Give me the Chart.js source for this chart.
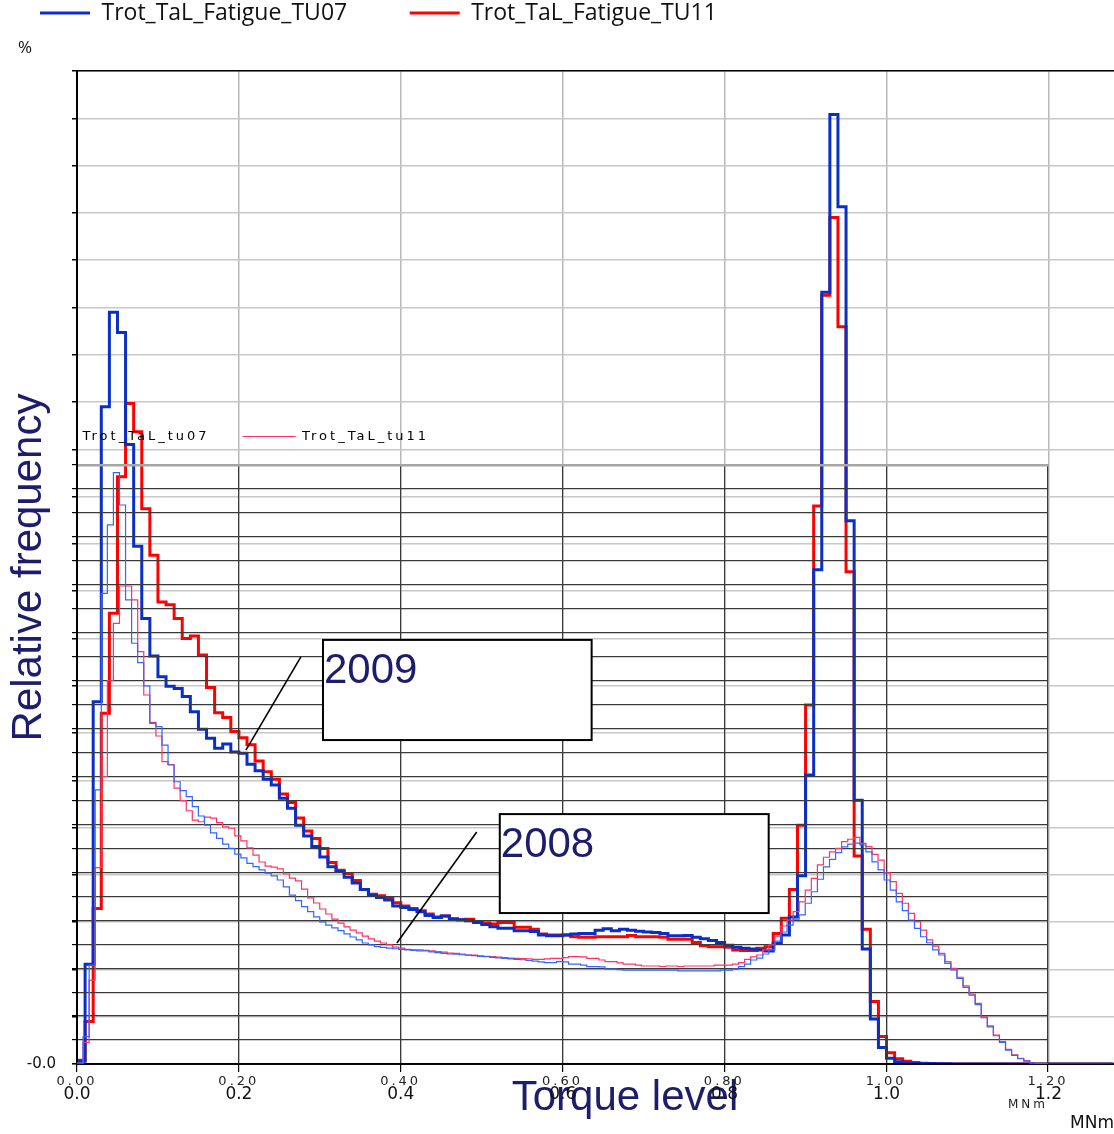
<!DOCTYPE html>
<html>
<head>
<meta charset="utf-8">
<script src="https://cdn.jsdelivr.net/npm/chart.js@4.4.1/dist/chart.umd.min.js"></script>
<style>
  html, body { margin: 0; padding: 0; background: #fff; }
  #wrap { position: relative; width: 1114px; height: 1134px; overflow: hidden; }
  #wrap canvas { position: absolute; left: 0; top: 0; }
</style>
</head>
<body>
<div id="wrap">
  <canvas id="c2009" width="1114" height="1134"></canvas>
  <canvas id="c2008" width="1114" height="1134"></canvas>
</div>
<script>
// ---- 2009 campaign: relative frequency per 0.01 MNm torque bin ----
const bin2009 = 0.01;
const tu07_2009 = [
  0.06, 2.11, 7.66, 13.9, 15.9, 15.47, 13.1, 10.95, 9.42, 8.63,
  8.19, 7.99, 7.94, 7.77, 7.45, 7.08, 6.89, 6.68, 6.77, 6.6,
  6.57, 6.34, 6.2, 6.02, 5.9, 5.62, 5.41, 5.05, 4.82, 4.6,
  4.38, 4.17, 4.07, 3.95, 3.83, 3.69, 3.57, 3.52, 3.47, 3.34,
  3.31, 3.27, 3.22, 3.14, 3.1, 3.13, 3.07, 3.05, 3.03, 2.99,
  2.95, 2.9, 2.87, 2.87, 2.82, 2.82, 2.8, 2.73, 2.71, 2.71,
  2.73, 2.75, 2.76, 2.76, 2.83, 2.86, 2.82, 2.85, 2.83, 2.81,
  2.79, 2.78, 2.76, 2.71, 2.71, 2.72, 2.68, 2.65, 2.61, 2.57,
  2.51, 2.47, 2.45, 2.43, 2.41, 2.39, 2.55, 2.73, 3.11, 3.98,
  6.11, 10.45, 16.32, 20.08, 18.13, 11.49, 5.58, 2.43, 0.95, 0.35,
  0.12, 0.05, 0.02, 0.01, 0.01, 0.01, 0.005, 0.005, 0, 0,
  0, 0, 0, 0, 0, 0, 0, 0, 0, 0,
  0, 0, 0, 0, 0, 0, 0, 0
];
const tu11_2009 = [
  0.08, 0.9, 3.29, 7.42, 9.53, 12.42, 13.97, 13.37, 11.74, 10.76,
  9.77, 9.71, 9.42, 9.0, 9.05, 8.65, 7.96, 7.43, 7.33, 7.03,
  6.9, 6.75, 6.41, 6.18, 6.02, 5.71, 5.53, 5.2, 4.93, 4.77,
  4.56, 4.26, 4.1, 4.03, 3.88, 3.69, 3.59, 3.56, 3.5, 3.41,
  3.34, 3.29, 3.24, 3.17, 3.11, 3.13, 3.06, 3.05, 3.06, 3.01,
  2.98, 2.96, 2.99, 2.99, 2.89, 2.89, 2.85, 2.75, 2.73, 2.73,
  2.73, 2.69, 2.68, 2.68, 2.69, 2.69, 2.69, 2.69, 2.72, 2.69,
  2.69, 2.69, 2.68, 2.64, 2.64, 2.64, 2.57, 2.5, 2.48, 2.48,
  2.47, 2.41, 2.4, 2.4, 2.45, 2.48, 2.76, 3.08, 3.69, 5.05,
  7.59, 11.8, 16.26, 17.9, 15.59, 10.41, 4.4, 2.85, 1.32, 0.58,
  0.24, 0.11, 0.06, 0.03, 0.015, 0.01, 0.005, 0, 0, 0,
  0, 0, 0, 0, 0, 0, 0, 0, 0, 0,
  0, 0, 0, 0, 0, 0, 0, 0
];

// ---- 2008 campaign: relative frequency per 0.0075 MNm torque bin ----
const bin2008 = 0.0075;
const tu07_2008 = [
  0.05, 1.14, 4.13, 11.44, 19.64, 22.5, 24.68, 23.33, 19.37, 17.56,
  16.75, 15.78, 14.22, 14.08, 13.31, 12.48, 11.78, 11.41, 11.16, 10.74,
  10.35, 9.97, 9.65, 9.42, 9.18, 9.0, 8.76, 8.6, 8.37, 8.24,
  8.1, 7.97, 7.85, 7.68, 7.39, 7.05, 6.82, 6.57, 6.36, 6.14,
  5.93, 5.8, 5.68, 5.57, 5.43, 5.3, 5.18, 5.05, 4.97, 4.9,
  4.87, 4.84, 4.81, 4.78, 4.76, 4.74, 4.72, 4.72, 4.68, 4.65,
  4.62, 4.59, 4.58, 4.56, 4.54, 4.52, 4.49, 4.48, 4.45, 4.43,
  4.41, 4.39, 4.37, 4.35, 4.32, 4.29, 4.26, 4.23, 4.23, 4.27,
  4.26, 4.17, 4.17, 4.13, 4.06, 4.06, 4.05, 3.96, 3.96, 3.94,
  3.92, 3.92, 3.92, 3.92, 3.92, 3.92, 3.92, 3.92, 3.92, 3.89,
  3.89, 3.89, 3.89, 3.89, 3.89, 3.89, 3.92, 3.92, 3.96, 4.06,
  4.17, 4.34, 4.42, 4.59, 4.76, 5.13, 5.51, 5.8, 6.05, 6.22,
  6.71, 7.19, 7.71, 8.23, 8.54, 8.82, 9.06, 9.18, 9.22, 9.14,
  8.85, 8.44, 8.1, 7.68, 7.26, 6.77, 6.4, 6.01, 5.66, 5.31,
  5.06, 4.76, 4.55, 4.2, 3.93, 3.57, 3.2, 2.87, 2.48, 1.93,
  1.55, 1.18, 0.9, 0.58, 0.36, 0.22, 0.12, 0.05, 0.02, 0.01
];
const tu11_2008 = [
  0, 0.9, 3.5, 8.2, 12.0, 16.0, 18.39, 19.95, 19.95, 19.37,
  17.21, 15.4, 14.26, 13.69, 12.62, 12.5, 11.51, 10.99, 10.57, 10.18,
  10.11, 10.3, 10.26, 10.07, 9.9, 9.84, 9.52, 9.31, 9.02, 8.72,
  8.43, 8.26, 8.22, 8.14, 7.93, 7.76, 7.64, 7.3, 6.93, 6.72,
  6.47, 6.26, 6.05, 5.88, 5.72, 5.59, 5.47, 5.34, 5.22, 5.13,
  5.05, 4.97, 4.88, 4.84, 4.78, 4.76, 4.76, 4.74, 4.72, 4.69,
  4.67, 4.63, 4.62, 4.59, 4.55, 4.55, 4.51, 4.49, 4.48, 4.46,
  4.44, 4.42, 4.41, 4.4, 4.39, 4.37, 4.37, 4.39, 4.41, 4.41,
  4.44, 4.48, 4.48, 4.47, 4.41, 4.41, 4.34, 4.27, 4.27, 4.22,
  4.17, 4.17, 4.13, 4.09, 4.09, 4.09, 4.07, 4.09, 4.09, 4.07,
  4.09, 4.09, 4.09, 4.09, 4.09, 4.13, 4.13, 4.13, 4.17, 4.23,
  4.37, 4.47, 4.55, 4.76, 4.97, 5.34, 5.76, 6.01, 6.36, 6.77,
  7.26, 7.75, 8.31, 8.63, 8.85, 9.0, 9.28, 9.38, 9.46, 9.21,
  9.07, 8.75, 8.51, 7.98, 7.61, 7.12, 6.71, 6.29, 5.94, 5.59,
  5.18, 4.92, 4.62, 4.27, 3.99, 3.62, 3.26, 2.92, 2.53, 1.97,
  1.59, 1.21, 0.93, 0.61, 0.38, 0.24, 0.14, 0.05, 0.02, 0.01
];

// year call-outs (box corners and leader line in 2008 axis units)
const callouts = [
  { label: '2009', box: [0.304, 0.636, 17.7, 13.52], from: [0.2767, 16.99], to: [0.2088, 13.1] },
  { label: '2008', box: [0.5225, 0.8548, 10.43, 6.3], from: [0.494, 9.68], to: [0.3953, 5.05] }
];

// histogram bins -> step points (left edge of every bin, plus closing edge)
function steps(values, width) {
  const pts = values.map((v, i) => ({ x: i * width, y: v }));
  pts.push({ x: values.length * width, y: values[values.length - 1] });
  return pts;
}

const NAVY = '#1d1d6b';

const outerText = {
  id: 'outerText',
  beforeDraw(chart) {
    const { ctx, chartArea } = chart;
    ctx.save();
    ctx.fillStyle = NAVY;
    ctx.font = '42px "Liberation Sans", Arial, sans-serif';
    ctx.textAlign = 'center';
    ctx.textBaseline = 'alphabetic';
    ctx.fillText('Torque level', chartArea.left + 548, chartArea.bottom + 46);
    ctx.fillStyle = '#111';
    ctx.font = '17px "Open Sans", sans-serif';
    ctx.textAlign = 'left';
    ctx.textBaseline = 'middle';
    ctx.fillText('%', 18, 48);
    ctx.restore();
  }
};

const spacing = {
  id: 'spacing',
  beforeUpdate(chart, args, opts) { chart.ctx.letterSpacing = opts.px + 'px'; },
  beforeDraw(chart, args, opts) { chart.ctx.letterSpacing = opts.px + 'px'; }
};

const calloutPlugin = {
  id: 'callouts',
  afterDraw(chart) {
    const { ctx, scales: { x, y } } = chart;
    ctx.save();
    ctx.letterSpacing = '0px';
    callouts.forEach(c => {
      ctx.strokeStyle = '#000';
      ctx.lineWidth = 1.6;
      ctx.beginPath();
      ctx.moveTo(x.getPixelForValue(c.from[0]), y.getPixelForValue(c.from[1]));
      ctx.lineTo(x.getPixelForValue(c.to[0]), y.getPixelForValue(c.to[1]));
      ctx.stroke();
      const l = x.getPixelForValue(c.box[0]), r = x.getPixelForValue(c.box[1]);
      const t = y.getPixelForValue(c.box[2]), b = y.getPixelForValue(c.box[3]);
      ctx.fillStyle = '#fff';
      ctx.fillRect(l, t, r - l, b - t);
      ctx.lineWidth = 2;
      ctx.strokeRect(l, t, r - l, b - t);
      ctx.fillStyle = NAVY;
      ctx.font = '42px "Liberation Sans", Arial, sans-serif';
      ctx.textAlign = 'left';
      ctx.textBaseline = 'alphabetic';
      ctx.fillText(c.label, l + 1, t + 43);
    });
    ctx.restore();
  }
};

// ---------- 2009 chart (full frame, thick lines) ----------
new Chart(document.getElementById('c2009'), {
  type: 'line',
  data: {
    datasets: [
      { label: 'Trot_TaL_Fatigue_TU07', data: steps(tu07_2009, bin2009), borderColor: '#0a2fc6',
        borderWidth: 3, stepped: true, pointRadius: 0, fill: false },
      { label: 'Trot_TaL_Fatigue_TU11', data: steps(tu11_2009, bin2009), borderColor: '#ff0000',
        borderWidth: 3, stepped: true, pointRadius: 0, fill: false }
    ]
  },
  options: {
    responsive: false, animation: false, devicePixelRatio: 1,
    layout: { padding: { left: -22.5, right: 0, top: -61, bottom: 0 } },
    plugins: {
      legend: {
        position: 'top', align: 'start',
        labels: { usePointStyle: true, pointStyle: 'line', pointStyleWidth: 50, padding: 62.5,
                  color: '#111', font: { family: 'Open Sans', size: 23 } }
      },
      tooltip: { enabled: false }
    },
    scales: {
      x: {
        type: 'linear', position: 'bottom', min: 0, max: 1.281,
        afterFit: s => { s.height = 70; },
        ticks: { stepSize: 0.2, includeBounds: false, autoSkip: false, maxRotation: 0,
                 callback: v => v.toFixed(1), color: '#111', padding: 20,
                 font: { family: 'DejaVu Sans', size: 17 } },
        grid: { color: '#b8b8b8', lineWidth: 1.5, drawTicks: false },
        border: { color: '#000', width: 2 },
        title: { display: true, text: 'MNm', align: 'end', color: '#111', padding: 0,
                 font: { family: 'DejaVu Sans', size: 17 } }
      },
      xTop: {
        type: 'linear', position: 'top', min: 0, max: 1.281,
        afterFit: s => { s.height = 36.5; },
        ticks: { display: false }, grid: { display: false, drawTicks: false },
        border: { color: '#000', width: 1.5 }
      },
      y: {
        min: 0, max: 21,
        afterFit: s => { s.width = 99.5; },
        ticks: { stepSize: 1, includeBounds: false, autoSkip: false, padding: 16, color: '#111',
                 callback: v => (v === 0 ? '-0.0' : ''), font: { family: 'DejaVu Sans', size: 15 } },
        grid: { color: '#c8c8c8', lineWidth: 1.5, tickColor: '#000', tickLength: 5 },
        border: { color: '#000', width: 2 },
        title: { display: true, text: 'Relative frequency', color: NAVY, padding: 27,
                 font: { family: 'Liberation Sans', size: 42 } }
      }
    }
  },
  plugins: [outerText]
});

// ---------- 2008 chart (lower panel, thin lines) ----------
new Chart(document.getElementById('c2008'), {
  type: 'line',
  data: {
    datasets: [
      { label: 'Trot_TaL_tu07', data: steps(tu07_2008, bin2008), borderColor: '#3366ff',
        borderWidth: 1.2, stepped: true, pointRadius: 0, fill: false },
      { label: 'Trot_TaL_tu11', data: steps(tu11_2008, bin2008), borderColor: '#ff3366',
        borderWidth: 1.2, stepped: true, pointRadius: 0, fill: false }
    ]
  },
  options: {
    responsive: false, animation: false, devicePixelRatio: 1,
    layout: { padding: { left: -10, right: 66, top: 397, bottom: 22 } },
    plugins: {
      spacing: { px: 3 },
      legend: {
        position: 'top', align: 'start',
        labels: {
          usePointStyle: true, pointStyle: 'line', pointStyleWidth: 53, padding: 33,
          color: '#000', font: { family: 'DejaVu Sans', size: 13 },
          generateLabels: chart => {
            const items = Chart.defaults.plugins.legend.labels.generateLabels(chart);
            items[0].strokeStyle = 'rgba(0,0,0,0)';
            return items;
          }
        }
      },
      tooltip: { enabled: false }
    },
    scales: {
      x: {
        type: 'linear', position: 'bottom', min: 0, max: 1.2,
        afterFit: s => { s.height = 48; },
        ticks: { stepSize: 0.2, autoSkip: false, maxRotation: 0, callback: v => v.toFixed(2),
                 color: '#222', padding: 2, font: { family: 'DejaVu Sans', size: 13 } },
        grid: { color: '#3a3a3a', lineWidth: 1.2, tickColor: '#000', tickLength: 8 },
        border: { color: '#000', width: 1.5 },
        title: { display: true, text: 'MNm', align: 'end', color: '#222', padding: 0,
                 font: { family: 'DejaVu Sans', size: 12 } }
      },
      xTop: {
        type: 'linear', position: 'top', min: 0, max: 1.2,
        afterFit: s => { s.height = 12; },
        ticks: { display: false }, grid: { display: false, drawTicks: false },
        border: { color: '#a6a6a6', width: 2.5 }
      },
      y: {
        min: 0, max: 25,
        afterFit: s => { s.width = 87; },
        ticks: { stepSize: 1, display: false },
        grid: { color: c => (c.tick && c.tick.value === 25 ? 'rgba(0,0,0,0)' : '#3a3a3a'),
                lineWidth: 1.2, tickColor: '#000', tickLength: 5 },
        border: { color: '#000', width: 2 }
      }
    }
  },
  plugins: [spacing, calloutPlugin]
});
</script>
</body>
</html>
